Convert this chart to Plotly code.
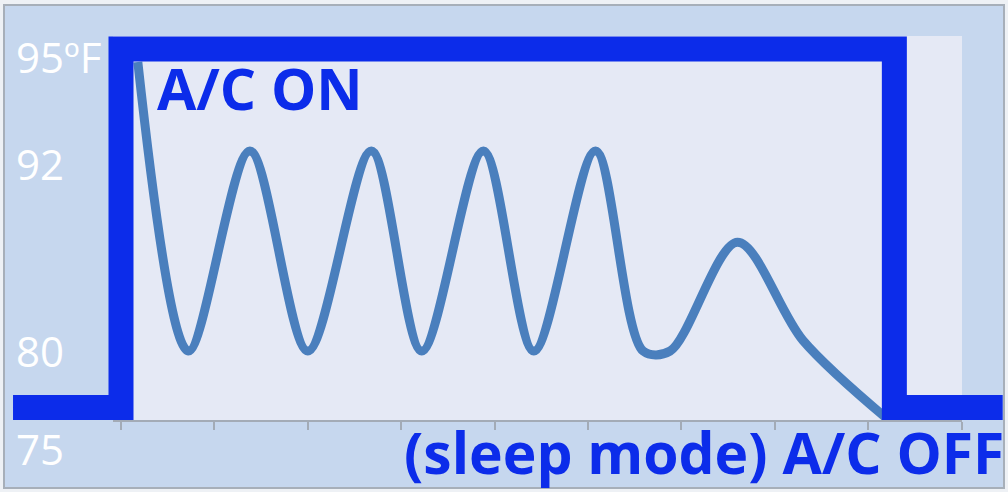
import plotly.graph_objects as go

# ---- data ----
# time (hours since A/C switched on) and room temperature (deg F)
time_h = [0.18, 0.72, 1.38, 2.00, 2.68, 3.22, 3.88, 4.42, 5.08, 5.59, 5.88, 6.60, 7.30, 8.20]
temp_f = [94.8, 80.05, 90.26, 80.05, 90.26, 80.05, 90.26, 80.05, 90.26, 80.05, 80.05, 85.6, 80.6, 76.6]

# A/C state (1 = ON, 0 = OFF)
state_time = [-1.156, 0.0, 8.28, 9.44]
state_val = [0, 1, 0, 0]

tick_hours = list(range(10))
y_tick_vals = [95, 89.54, 80, 75]
y_tick_text = ["95ºF", "92", "80", "75"]

label_on = "A/C ON"
label_off = "(sleep mode) A/C OFF"

# ---- layout constants ----
W, H = 1008, 492
BLUE = "#0c2cea"
CURVE = "#4a7fbd"
PAPER_BLUE = "#c6d7ee"
PLOT_BG = "#e5e9f5"

fig = go.Figure()

fig.add_trace(go.Scatter(
    x=time_h, y=temp_f, mode="lines",
    line=dict(color=CURVE, width=9, shape="spline", smoothing=0.9),
    xaxis="x", yaxis="y", hoverinfo="skip", showlegend=False,
))

fig.add_trace(go.Scatter(
    x=state_time, y=state_val, mode="lines",
    line=dict(color=BLUE, width=25, shape="hv"),
    xaxis="x2", yaxis="y2", hoverinfo="skip", showlegend=False,
))

fig.update_layout(
    width=W, height=H,
    margin=dict(l=0, r=0, t=0, b=0),
    paper_bgcolor="#eef1f5",
    plot_bgcolor="rgba(0,0,0,0)",
    showlegend=False,
    xaxis=dict(
        domain=[113 / W, 962 / W],
        range=[-0.0857, 9.0043],
        anchor="free", position=71 / H,
        showgrid=False, zeroline=False,
        showline=True, linecolor="#a3abb6", linewidth=1.5,
        ticks="outside", ticklen=8, tickwidth=1.5, tickcolor="#a3abb6",
        tickvals=tick_hours, showticklabels=False,
    ),
    yaxis=dict(
        domain=[0, 1],
        range=[72.857, 97.959],
        anchor="free", position=12 / W,
        showgrid=False, zeroline=False, showline=False,
        ticks="", tickvals=y_tick_vals, ticktext=y_tick_text,
        ticklabelposition="inside",
        tickfont=dict(family="Open Sans", size=42, color="white"),
    ),
    xaxis2=dict(
        domain=[0, 1], range=[-1.2955, 9.4968], anchor="y2",
        visible=False,
    ),
    yaxis2=dict(
        domain=[0, 1], range=[-0.2357, 1.1367], anchor="x2",
        visible=False,
    ),
    shapes=[
        dict(type="rect", xref="paper", yref="paper",
             x0=4 / W, x1=1004 / W, y0=1 - 488 / H, y1=1 - 5 / H,
             fillcolor=PAPER_BLUE, line=dict(color="#a7afb9", width=2),
             layer="below"),
        dict(type="rect", xref="paper", yref="paper",
             x0=113 / W, x1=962 / W, y0=1 - 421 / H, y1=1 - 36 / H,
             fillcolor=PLOT_BG, line=dict(width=0), layer="below"),
    ],
    annotations=[
        dict(text=label_on, xref="paper", yref="paper",
             x=155 / W, y=1 - 88 / H, xanchor="left", yanchor="middle",
             showarrow=False,
             font=dict(family="Open Sans", size=57, color=BLUE, weight=700)),
        dict(text=label_off, xref="paper", yref="paper",
             x=1006 / W, y=1 - 452 / H, xanchor="right", yanchor="middle",
             showarrow=False,
             font=dict(family="Open Sans", size=57, color=BLUE, weight=700)),
    ],
)

fig.write_html("out.html", config={"displayModeBar": False},
               post_script="document.body.style.margin='0';")
